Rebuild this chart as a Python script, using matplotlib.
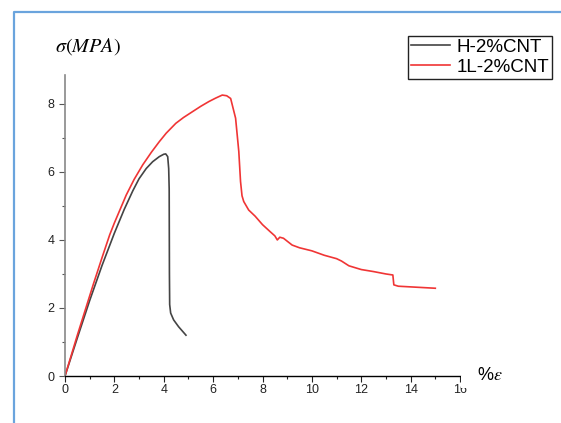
import matplotlib

matplotlib.use("Agg")

import matplotlib.pyplot as plt
from matplotlib.lines import Line2D
from matplotlib.patches import Rectangle


# Stress-strain readings taken from the reference chart.
H_STRAIN = [0, 0.5, 1.0, 1.5, 2.0, 2.4, 2.75, 3.0, 3.29, 3.55, 3.82, 4.0,
            4.08, 4.16, 4.2, 4.22, 4.23, 4.24, 4.28, 4.4, 4.6, 4.9]
H_STRESS = [0, 1.12, 2.22, 3.25, 4.2, 4.9, 5.45, 5.8, 6.1, 6.3, 6.45, 6.52,
            6.53, 6.45, 6.1, 5.5, 3.0, 2.1, 1.85, 1.65, 1.45, 1.2]

L_STRAIN = [0, 0.5, 1.14, 1.5, 1.81, 2.0, 2.48, 2.8, 3.15, 3.5, 3.82, 4.1,
            4.49, 4.8, 5.16, 5.5, 5.83, 6.1, 6.37, 6.55, 6.71, 6.91, 7.04,
            7.11, 7.17, 7.24, 7.44, 7.7, 8.0, 8.3, 8.5, 8.6, 8.7, 8.85,
            9.2, 9.5, 10.0, 10.5, 11.0, 11.2, 11.5, 12.0, 12.5, 13.0,
            13.28, 13.32, 13.5, 14.0, 14.5, 15.0]
L_STRESS = [0, 1.2, 2.68, 3.48, 4.15, 4.5, 5.32, 5.78, 6.21, 6.58, 6.89,
            7.14, 7.43, 7.6, 7.77, 7.93, 8.07, 8.17, 8.26, 8.24, 8.16, 7.58,
            6.6, 5.72, 5.3, 5.13, 4.88, 4.7, 4.45, 4.25, 4.12, 4.0, 4.08,
            4.05, 3.85, 3.77, 3.68, 3.55, 3.45, 3.38, 3.24, 3.13, 3.07, 3.0,
            2.97, 2.68, 2.64, 2.62, 2.6, 2.58]

X_TICKS = [0, 2, 4, 6, 8, 10, 12, 14, 16]
Y_TICKS = [0, 2, 4, 6, 8]

plt.rcParams["font.family"] = ["Liberation Sans", "DejaVu Sans"]
plt.rcParams["mathtext.fontset"] = "stix"

W, H = 561, 423
fig = plt.figure(figsize=(W / 100, H / 100), dpi=100)
ax = fig.add_axes([65 / W, 47 / H, 395 / W, 301 / H])

ax.plot(H_STRAIN, H_STRESS, color="#444444", linewidth=1.2, label="H-2%CNT")
ax.plot(L_STRAIN, L_STRESS, color="#f03535", linewidth=1.2, label="1L-2%CNT")

ax.set_xlim(0, 16)
ax.set_ylim(0, 8.85)

ax.spines["top"].set_visible(False)
ax.spines["right"].set_visible(False)
ax.spines["left"].set_color("#888888")
ax.spines["left"].set_linewidth(1.2)
ax.spines["bottom"].set_color("black")
ax.spines["bottom"].set_linewidth(1.0)

ax.set_xticks(X_TICKS)
ax.set_xticks(range(1, 16, 2), minor=True)
ax.set_yticks(Y_TICKS)
ax.set_yticks(range(1, 9, 2), minor=True)
ax.tick_params(which="major", direction="out", length=4, width=0.8,
               labelsize=9, colors="#222222")
ax.tick_params(which="minor", direction="out", length=2.5, width=0.8,
               colors="#222222")
ax.tick_params(axis="y", which="both", color="#555555")
ax.tick_params(axis="x", which="both", pad=2)

# The "16" label is mostly hidden in the original; cover the top of the "6".
fig.add_artist(Rectangle((461 / W, 1 - 388 / H), 12 / W, 12 / H,
                         facecolor="white", edgecolor="none",
                         transform=fig.transFigure, zorder=10))

fig.text(88 / W, 1 - 47 / H, r"$\sigma(MPA)$", ha="center", va="center",
         fontsize=14.5)
fig.text(490 / W, 1 - 376 / H, r"%$\varepsilon$", ha="center",
         va="center", fontsize=13)

leg = ax.legend(loc="upper right", bbox_to_anchor=(552 / W, 1 - 36 / H),
                bbox_transform=fig.transFigure, fontsize=13.5,
                frameon=True, fancybox=False, framealpha=1,
                borderpad=0.15, borderaxespad=0, handlelength=2.1,
                handletextpad=0.35, labelspacing=0.15)
leg.get_frame().set_edgecolor("#222222")
leg.get_frame().set_linewidth(1.0)

# Light blue frame around the picture (top and left sides only).
fig.add_artist(Line2D([14 / W, 14 / W, 1], [0, 1 - 12 / H, 1 - 12 / H],
                      color="#6aa4dd", linewidth=1.6,
                      transform=fig.transFigure))

fig.savefig("out.png", dpi=100)
